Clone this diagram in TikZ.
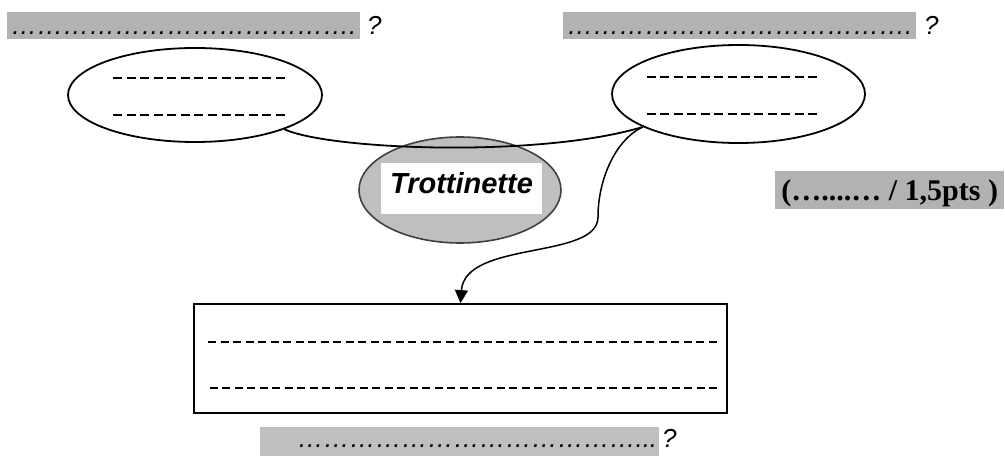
\documentclass[tikz,border=0pt]{standalone}
\usepackage{fontspec}
\setmainfont{Liberation Sans}
\newfontfamily\serifbold{Liberation Serif}
\usetikzlibrary{shapes.geometric,arrows.meta}
\definecolor{bandgray}{gray}{0.70}
\definecolor{bandlight}{gray}{0.75}
\definecolor{trfill}{gray}{0.75}
\definecolor{trline}{gray}{0.25}
\newcommand{\ellrep}[1]{\foreach \k in {1,...,#1}{…}}
\begin{document}
\begin{tikzpicture}[x=1pt,y=-1pt,
  band/.style={fill=bandgray, inner xsep=0pt, inner ysep=0pt, text height=23pt, text depth=4pt,
    font=\fontsize{26}{30}\selectfont\itshape},
  qmark/.style={anchor=base west, inner sep=0pt, font=\fontsize{26}{30}\selectfont\itshape},
  bubble/.style={ellipse, draw, line width=1.8pt, inner sep=0pt},
  blank/.style={dash pattern=on 9pt off 4.58pt, line width=1.8pt},
  conn/.style={line width=1.8pt},
  arrowconn/.style={line width=1.5pt, -{Triangle[length=13pt,width=13pt]}},
]
\useasboundingbox (0,0) rectangle (1005,457);

% top bands
\node[band, minimum width=353pt, anchor=base west] (b1) at (7,35) {\ellrep{13}.};
\node[qmark] (q1) at (367,35) {?};
\node[band, minimum width=353pt, anchor=base west] (b2) at (563,35) {\ellrep{13}.};
\node[qmark] (q2) at (924,35) {?};

% ellipses
\node[bubble, minimum width=254pt, minimum height=94pt] (e1) at (195,95) {};
\node[bubble, minimum width=253pt, minimum height=98pt] (e2) at (738.5,94) {};
\draw[blank] (113,78) -- (285,78);
\draw[blank] (113,115) -- (285,115);
\draw[blank, dash pattern=on 9pt off 4.42pt] (647,77) -- (817,77);
\draw[blank, dash pattern=on 9pt off 4.42pt] (647,114) -- (817,114);

% Trottinette
\node[ellipse, fill=trfill, draw=trline, line width=1.6pt, inner sep=0pt,
      minimum width=202pt, minimum height=106pt] (tr) at (460,190) {};
\node[fill=white, inner sep=0pt, minimum width=161pt, minimum height=51pt,
      text height=20pt, text depth=9pt,
      font=\fontsize{29}{32}\selectfont\bfseries\itshape] (trt) at (461.5,188.5) {Trottinette};

% connector between ellipses
\draw[conn] (e1.-21.6) .. controls (330,150) and (540,158) .. (e2.199);

% box
\node[draw, line width=1.8pt, inner sep=0pt, minimum width=533pt, minimum height=109pt] (box) at (460.5,358.5) {};
\draw[blank, dash pattern=on 8pt off 4.525pt] (208,342) -- (717,342);
\draw[blank, dash pattern=on 8pt off 4.475pt] (210,388) -- (717,388);

% arrow
\draw[arrowconn] (e2.199) .. controls (615,140) and (598,180) .. (598,217)
   .. controls (598,260) and (465,240) .. (box.north);

% bottom band
\node[fill=bandlight, inner xsep=2pt, inner ysep=0pt, text height=20pt, text depth=9pt,
      text width=395pt, align=right, anchor=base west,
      font=\fontsize{26}{30}\selectfont\itshape] (b3) at (260,447) {\ellrep{13}...};
\node[qmark] (q3) at (662,447) {?};

% points label
\node[fill=bandgray, inner xsep=0pt, inner ysep=0pt, text height=30pt, text depth=8pt,
      minimum width=229pt, anchor=base west,
      font=\serifbold\fontsize{30}{34}\selectfont\bfseries] (pts) at (775,201) {(…....… / 1,5pts )};
\end{tikzpicture}
\end{document}
